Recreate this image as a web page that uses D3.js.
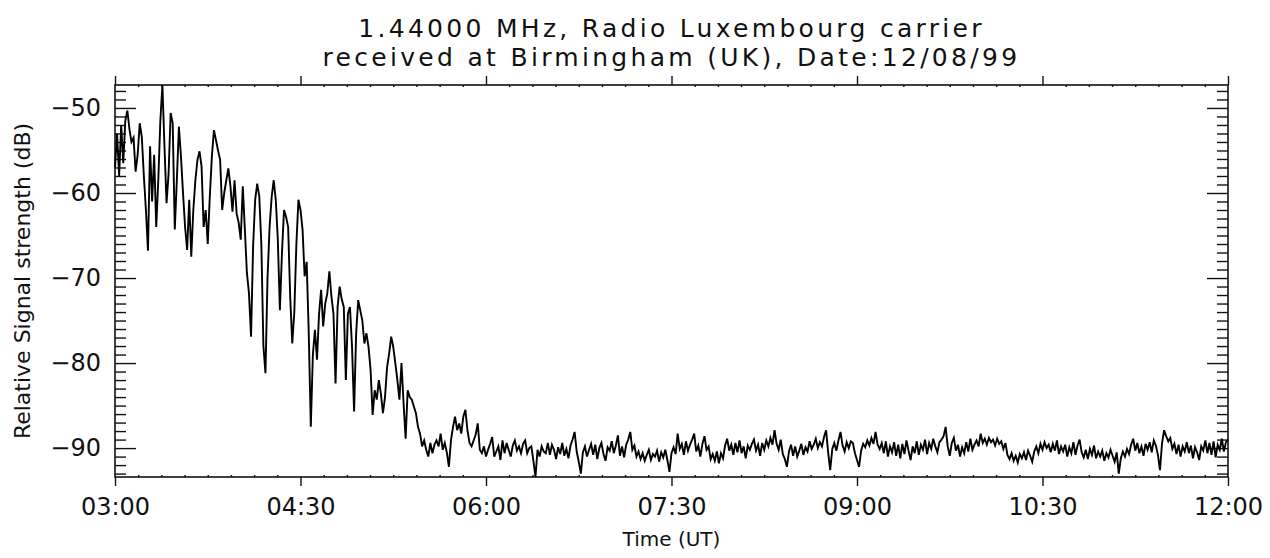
<!DOCTYPE html>
<html>
  <head>
    <meta charset="utf-8">
    <script src="https://d3js.org/d3.v7.min.js"></script>
    <style>
      body { margin: 0; background: #fff; }
      text { font-family: "DejaVu Sans", sans-serif; fill: #111; }
      .axis path.domain { display: none; }
      .axis line { stroke: #111; stroke-width: 1.4; }
    </style>
  </head>
<body>
<script type="text/javascript">

// Signal strength (dB), one reading per minute from 03:00 UT

// 03:00 - 05:30, the fading phase
var fadingPhase = [
  -57.0, -53.0, -58.0, -52.0, -56.5, -51.5, -50.3, -52.5, -54.0, -53.5,
  -57.5, -55.5, -51.8, -53.4, -58.0, -62.0, -66.8, -54.5, -61.0, -55.5,
  -64.0, -58.5, -51.5, -47.3, -54.5, -61.2, -57.7, -50.6, -51.8, -64.3,
  -58.5, -52.2, -55.7, -60.0, -64.0, -66.7, -60.8, -67.5, -62.0, -58.5,
  -56.1, -55.1, -56.9, -64.0, -62.0, -66.0, -60.4, -55.7, -52.6, -53.8,
  -55.0, -56.1, -62.0, -60.0, -58.5, -57.1, -59.2, -62.2, -58.5, -62.4,
  -63.5, -65.5, -59.2, -64.3, -69.4, -71.8, -76.9, -66.3, -60.8, -58.9,
  -60.4, -66.0, -78.0, -81.2, -70.0, -64.0, -60.5, -58.5, -60.8, -65.5,
  -73.8, -67.1, -62.0, -62.8, -64.0, -72.2, -77.7, -74.0, -66.0, -60.8,
  -62.0, -64.3, -69.8, -68.1, -76.5, -87.5, -79.0, -76.1, -79.6, -74.2,
  -71.4, -75.7, -73.0, -71.8, -69.2, -72.2, -74.2, -82.4, -73.4, -71.0,
  -72.5, -73.4, -82.0, -74.2, -73.4, -78.1, -85.7, -76.5, -72.6, -73.8,
  -75.0, -77.7, -76.5, -78.1, -80.8, -86.1, -83.2, -84.3, -82.0, -83.6,
  -85.9, -84.0, -80.5, -78.9, -76.9, -78.1, -80.0, -82.0, -84.3, -80.0,
  -84.7, -88.9, -83.2, -84.0, -84.3, -85.1, -85.9, -87.5, -88.3, -89.8,
  -89.1
];

// 05:31 - 08:00, settling onto the noise floor
var noiseMorning = [
  -90.2, -91.0, -89.4, -90.6, -89.6, -89.1, -89.8, -88.3, -90.2, -89.4,
  -90.5, -92.2, -89.1, -87.5, -86.3, -87.9, -87.1, -88.3, -86.3, -85.5,
  -87.9, -89.4, -89.8, -89.1, -88.4, -87.1, -90.2, -90.6, -89.8, -91.0,
  -90.2, -89.5, -88.7, -91.0, -90.4, -89.8, -91.4, -89.1, -90.6, -89.4,
  -90.2, -91.0, -89.7, -89.1, -90.3, -89.8, -90.6, -89.5, -89.1, -90.6,
  -90.0, -89.8, -91.5, -93.4, -90.2, -91.0, -89.8, -90.4, -90.6, -89.4,
  -90.8, -89.6, -90.2, -91.3, -89.9, -90.7, -89.4, -90.9, -90.1, -91.2,
  -89.7, -89.0, -88.1, -90.4, -91.6, -93.0, -90.5, -89.8, -91.0, -90.2,
  -89.5, -90.8, -89.6, -91.3, -90.0, -89.4, -90.7, -91.5, -89.9, -90.3,
  -89.2, -90.6, -89.7, -88.5, -90.9, -89.8, -91.1, -89.6, -89.0, -88.1,
  -90.2, -89.7, -91.0, -90.4, -91.3, -90.6, -91.5, -90.8, -90.2, -91.4,
  -90.7, -91.0, -90.3, -91.6, -90.5, -91.1, -90.2, -91.4, -92.8, -90.6,
  -89.9, -90.7, -88.3, -90.1, -89.5, -90.8, -89.2, -90.3, -89.6, -89.0,
  -88.3, -90.4, -89.7, -91.0, -89.5, -88.6, -90.2, -89.8, -91.3, -90.7,
  -91.5, -90.4, -91.8, -90.6, -91.2, -89.7, -88.9, -90.3, -89.6, -90.8
];

// 08:01 - 10:00
var noiseMidday = [
  -89.4, -90.5, -89.1, -90.6, -89.8, -91.2, -89.7, -90.2, -89.5, -89.0,
  -90.3, -89.6, -90.9, -89.4, -90.2, -89.1, -89.8, -88.8, -89.6, -87.9,
  -89.5, -90.2, -89.0, -90.7, -91.3, -92.2, -90.4, -89.6, -90.9, -89.8,
  -91.0, -90.3, -89.5, -90.8, -89.9, -90.4, -89.2, -90.1, -89.6, -88.9,
  -90.0, -89.3, -89.8, -88.7, -87.9, -90.5, -92.6, -90.1, -89.4, -90.3,
  -89.1, -88.1, -89.7, -90.4, -89.3, -90.0, -89.2, -89.4, -90.6, -91.4,
  -92.2, -90.3, -89.5, -89.9, -89.1, -89.7, -88.8, -89.5, -88.1, -89.6,
  -90.1, -89.4, -90.6, -89.2, -91.0, -89.8, -90.5, -89.3, -90.9, -89.6,
  -91.2, -89.5, -90.7, -89.1, -90.3, -91.4, -89.8, -90.6, -89.2, -90.8,
  -89.6, -90.2, -89.0, -90.7, -89.4, -90.1, -88.9, -89.8, -90.5, -89.3,
  -89.0, -88.6, -87.5, -89.8, -90.9, -89.4, -88.8, -90.3, -89.6, -91.0,
  -89.9, -90.6, -89.3, -90.4, -88.9, -90.2, -89.6, -89.1, -89.8, -88.3
];

// 10:01 - 12:00
var noiseAfternoon = [
  -89.4, -88.9, -89.6, -88.8, -89.3, -89.0, -89.7, -88.9, -89.5, -89.2,
  -90.1, -89.4, -90.8, -91.3, -90.6, -91.5, -90.9, -91.7, -90.7, -91.2,
  -90.5, -91.4, -90.3, -90.9, -91.6, -90.4, -89.8, -90.6, -89.5, -90.2,
  -89.3, -90.0, -89.6, -90.5, -89.5, -90.3, -89.1, -90.7, -89.8, -90.4,
  -89.6, -91.0, -89.9, -90.6, -89.3, -90.8, -89.7, -89.0, -90.5, -91.1,
  -90.2, -91.3, -90.1, -90.8, -89.7, -91.2, -90.4, -91.0, -90.3, -91.5,
  -90.6, -91.1, -90.2, -90.9, -91.6, -90.5, -93.0, -91.2, -90.4, -91.0,
  -90.1, -90.7, -89.6, -88.9, -90.3, -89.4, -90.6, -89.8, -90.9, -89.5,
  -90.2, -89.3, -90.5, -89.1, -89.7, -90.8, -92.6, -89.4, -87.9, -88.6,
  -89.2, -88.8, -90.1, -89.5, -90.7, -89.6, -91.0, -89.8, -90.4, -89.3,
  -90.6, -89.7, -91.2, -89.9, -90.5, -91.4, -89.8, -90.3, -89.1, -90.6,
  -89.4, -90.8, -89.2, -91.1, -89.6, -90.2, -88.9, -90.4, -89.3, -89.0
];

// Axis ticks and labels
var xTickMinutes = [180, 270, 360, 450, 540, 630, 720];
var xTickLabels = ["03:00", "04:30", "06:00", "07:30", "09:00", "10:30", "12:00"];
var yTickValues = [-50, -60, -70, -80, -90];
var yTickLabels = ["\u221250", "\u221260", "\u221270", "\u221280", "\u221290"];

var titleLines = ["1.44000 MHz, Radio Luxembourg carrier",
                  "received at Birmingham (UK), Date:12/08/99"];

// Putting the readings together, minute of day on x
var readings = fadingPhase.concat(noiseMorning, noiseMidday, noiseAfternoon)
  .map(function(v, i) { return { minute: 180 + i, db: v }; });

// Creating the svg
var width = 1270, height = 558;
var margin = { left: 115, right: 42, top: 85, bottom: 81 };

var svg = d3.select("body")
  .append("svg")
    .attr("width", width)
    .attr("height", height);

var x = d3.scaleLinear()
  .domain([180, 720])
  .range([margin.left, width - margin.right]);

// y range runs from data min to data max, like the original plot
var y = d3.scaleLinear()
  .domain(d3.extent(readings, function(d) { return d.db; }))
  .range([height - margin.bottom, margin.top]);

var x0 = x.range()[0], x1 = x.range()[1];
var y0 = y.range()[0], y1 = y.range()[1];

// Minor tick positions
var xMinor = d3.range(180, 720.01, 90 / 8).filter(function(m) { return (m - 180) % 90 !== 0; });
var yMinor = d3.range(-93, -47, 1).filter(function(v) { return v % 10 !== 0; });

// X axes, ticks pointing outward
svg.append("g")
  .attr("class", "axis")
  .attr("transform", "translate(0," + y0 + ")")
  .call(d3.axisBottom(x)
    .tickValues(xTickMinutes)
    .tickFormat(function(d, i) { return xTickLabels[i]; })
    .tickSizeInner(9).tickSizeOuter(0).tickPadding(6))
  .selectAll("text")
    .attr("font-size", 24)
    .attr("dy", "0.95em");

svg.append("g")
  .attr("class", "axis")
  .attr("transform", "translate(0," + y1 + ")")
  .call(d3.axisTop(x)
    .tickValues(xTickMinutes)
    .tickFormat("")
    .tickSizeInner(9).tickSizeOuter(0));

svg.append("g")
  .attr("class", "axis minor")
  .attr("transform", "translate(0," + y0 + ")")
  .call(d3.axisTop(x).tickValues(xMinor).tickFormat("").tickSizeInner(2).tickSizeOuter(0));

svg.append("g")
  .attr("class", "axis minor")
  .attr("transform", "translate(0," + y1 + ")")
  .call(d3.axisBottom(x).tickValues(xMinor).tickFormat("").tickSizeInner(2).tickSizeOuter(0));

// Y axes, ticks pointing inward
svg.append("g")
  .attr("class", "axis")
  .attr("transform", "translate(" + x0 + ",0)")
  .call(d3.axisLeft(y)
    .tickValues(yTickValues)
    .tickFormat(function(d, i) { return yTickLabels[i]; })
    .tickSizeInner(-21).tickSizeOuter(0).tickPadding(14))
  .selectAll("text")
    .attr("font-size", 24);

svg.append("g")
  .attr("class", "axis")
  .attr("transform", "translate(" + x0 + ",0)")
  .call(d3.axisLeft(y).tickValues(yMinor).tickFormat("").tickSizeInner(-11).tickSizeOuter(0));

svg.append("g")
  .attr("class", "axis")
  .attr("transform", "translate(" + x1 + ",0)")
  .call(d3.axisRight(y).tickValues(yTickValues).tickFormat("").tickSizeInner(-21).tickSizeOuter(0));

svg.append("g")
  .attr("class", "axis")
  .attr("transform", "translate(" + x1 + ",0)")
  .call(d3.axisRight(y).tickValues(yMinor).tickFormat("").tickSizeInner(-11).tickSizeOuter(0));

// Plot frame
svg.append("rect")
  .attr("x", x0)
  .attr("y", y1)
  .attr("width", x1 - x0)
  .attr("height", y0 - y1)
  .attr("fill", "none")
  .attr("stroke", "#111")
  .attr("stroke-width", 1.6);

// The signal trace
var line = d3.line()
  .x(function(d) { return x(d.minute); })
  .y(function(d) { return y(d.db); });

svg.append("path")
  .datum(readings)
  .attr("d", line)
  .attr("fill", "none")
  .attr("stroke", "#000")
  .attr("stroke-width", 1.9)
  .attr("stroke-linejoin", "miter");

// Titles
svg.selectAll(".title")
  .data(titleLines)
  .enter().append("text")
    .attr("class", "title")
    .attr("x", (x0 + x1) / 2)
    .attr("y", function(d, i) { return 37 + i * 29; })
    .attr("text-anchor", "middle")
    .attr("font-size", 25)
    .attr("letter-spacing", 3.3)
    .text(function(d) { return d; });

svg.append("text")
  .attr("x", (x0 + x1) / 2)
  .attr("y", 546)
  .attr("text-anchor", "middle")
  .attr("font-size", 20)
  .text("Time (UT)");

svg.append("text")
  .attr("transform", "translate(30," + ((y0 + y1) / 2) + ") rotate(-90)")
  .attr("text-anchor", "middle")
  .attr("font-size", 22)
  .text("Relative Signal strength (dB)");

</script>
</body>
</html>
